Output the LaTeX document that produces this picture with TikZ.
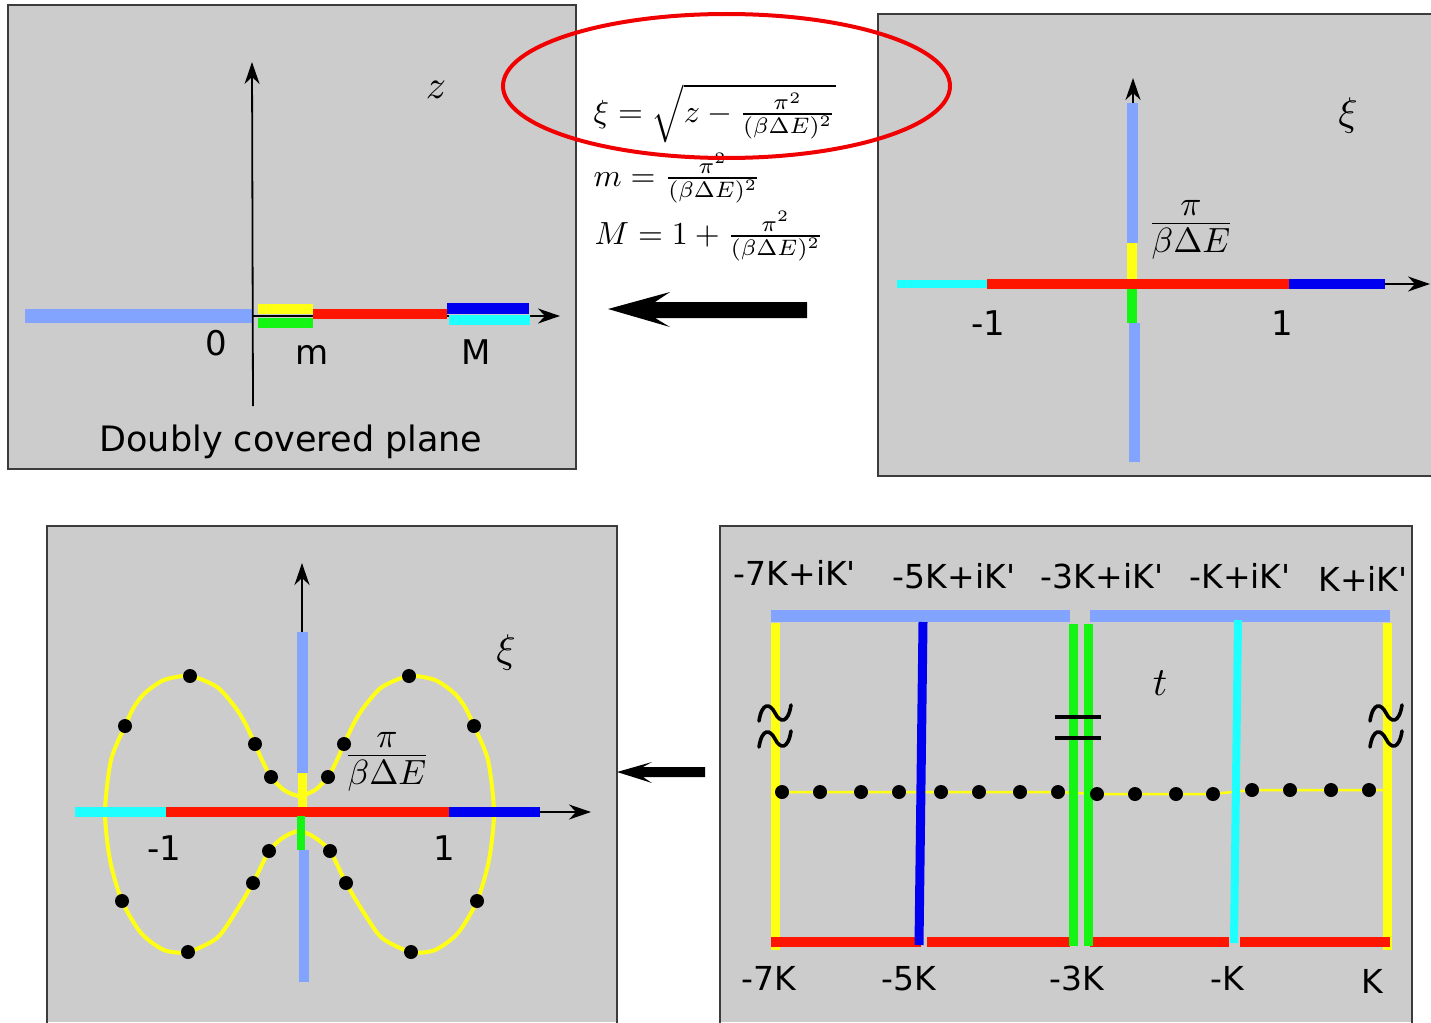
\documentclass[tikz,border=0pt]{standalone}
\usepackage[no-math]{fontspec}
\newfontfamily\lab[Ligatures=TeXOff]{DejaVu Sans}
\usetikzlibrary{arrows.meta}
\definecolor{panelgray}{RGB}{204,204,204}
\definecolor{framegray}{RGB}{60,60,60}
\definecolor{lblue}{RGB}{130,164,255}
\definecolor{cyellow}{RGB}{255,255,20}
\definecolor{cgreen}{RGB}{20,245,20}
\definecolor{cred}{RGB}{255,22,0}
\definecolor{cblue}{RGB}{0,0,240}
\definecolor{ccyan}{RGB}{30,255,255}
\definecolor{ered}{RGB}{240,0,0}
\newcommand{\pifrac}{$\frac{\textstyle\pi\vrule depth 1.6pt width 0pt}{\textstyle\vrule height 7.6pt width 0pt\beta\Delta E}$}
\begin{document}
\begin{tikzpicture}[x=1pt,y=-1pt,
  panelfill/.style={fill=panelgray},
  panelframe/.style={draw=framegray,line width=2pt},
  axarrow/.style={line width=1.8pt,-{Stealth[length=22pt,width=15pt,inset=7pt]}},
  lbl/.style={font=\lab\fontsize{34}{40}\selectfont,inner sep=0pt,anchor=base},
  mlbl/.style={font=\fontsize{10}{12}\selectfont,inner sep=0pt,scale=4,transform shape},
  flbl/.style={font=\fontsize{10}{12}\selectfont,inner sep=0pt,scale=3.5,transform shape},
  frm/.style={font=\fontsize{10}{12}\selectfont,inner sep=0pt,anchor=base west,scale=3.2,transform shape},
  blackdot/.style={circle,fill=black,inner sep=0pt,minimum size=14pt},
  tilde/.pic={\draw[line width=3.6pt,line cap=round] (-16,8) .. controls (-13,-11) and (-5,-10) .. (0,0) .. controls (5,10) and (13,11) .. (16,-8);},
]
\useasboundingbox (0,0) rectangle (1431,1022);
\fill[white] (0,0) rectangle (1431,1022);

% ---------------- top-left panel ----------------
\fill[panelfill] (8,5) rectangle (576,469);
\draw[panelframe] (8,5) rectangle (576,469);
\draw[axarrow] (252,316) -- (560,316);
\draw[lblue,line width=14pt] (25,316) -- (252,316);
\draw[cyellow,line width=10pt] (258,309) -- (313,309);
\draw[cgreen,line width=10pt] (258,323) -- (313,323);
\draw[cred,line width=10pt] (313,314) -- (447,314);
\draw[cblue,line width=11pt] (447,308.5) -- (529,308.5);
\draw[ccyan,line width=10pt] (449,320) -- (530,320);
\draw[axarrow] (253,406) -- (252,62);
\node[lbl] (zero) at (216,355) {0};
\node[lbl] (mlab) at (312,364) {m};
\node[lbl] (Mlab) at (476,364) {M};
\node[mlbl] (zlab) at (436,90) {$z$};
\node[lbl,font=\lab\fontsize{35}{40}\selectfont] (dcp) at (291,451) {Doubly covered plane};

% ---------------- formulas ----------------
\node[frm] (f1) at (593,122) {$\xi=\sqrt{z-\frac{\pi^2}{(\beta\Delta E)^2}}$};
\node[frm] (f2) at (593,186) {$m=\frac{\pi^2}{(\beta\Delta E)^2}$};
\node[frm] (f3) at (594,244) {$M=1+\frac{\pi^2}{(\beta\Delta E)^2}$};
\fill (608,309) -- (670,292) -- (655,302) -- (807,302) -- (807,318) -- (655,318) -- (670,327) -- cycle;

% ---------------- top-right panel ----------------
\fill[panelfill] (878,14) rectangle (1431,476);
\draw[panelframe] (1431,14) -- (878,14) -- (878,476) -- (1431,476);
\draw[axarrow] (1133,460) -- (1133,78);
\draw[axarrow] (897,284) -- (1430,284);
\draw[lblue,line width=11pt] (1132,103) -- (1132,243);
\draw[cyellow,line width=10pt] (1132,243) -- (1132,279);
\draw[ccyan,line width=8pt] (897,284) -- (987,284);
\draw[cred,line width=10pt] (987,284) -- (1289,284);
\draw[cblue,line width=10pt] (1289,284) -- (1385,284);
\draw[cgreen,line width=10pt] (1132,289) -- (1132,323);
\draw[lblue,line width=11pt] (1134,323) -- (1134,462);
\node[lbl] (tm1) at (988,335) {-1};
\node[lbl] (tp1) at (1282,335) {1};
\node[mlbl] (xi1) at (1348,115) {$\xi$};
\node[flbl] (fr1) at (1191,230) {\pifrac};

% ---------------- bottom-left panel ----------------
\fill[panelfill] (47,526) rectangle (617,1022);
\draw[panelframe] (47,1030) -- (47,526) -- (617,526) -- (617,1030);
\draw[axarrow] (302,800) -- (302,563);
\draw[axarrow] (75,812) -- (591,812);
\draw[cyellow,line width=4pt] plot[smooth cycle,tension=0.45] coordinates {
  (299,796) (284,790) (271,777) (262,760) (255,744) (245,723) (235,707) (217,687)
  (190,676) (164,680) (145,693) (134,707) (125,726) (111,760) (105,812) (110,860) (122,901)
  (141,933) (164,950) (188,952) (217,938) (235,913) (253,883) (269,851) (284,837)
  (299,831)
  (314,837) (330,851) (346,883) (364,913) (382,938) (411,952) (435,950) (458,933)
  (477,901) (489,860) (494,812) (488,760) (474,726) (465,707) (454,693) (435,680)
  (409,676) (382,687) (364,707) (354,723) (344,744) (337,760) (328,777) (315,790)};
\draw[lblue,line width=11pt] (302,632) -- (302,773);
\draw[cyellow,line width=9pt] (302,773) -- (302,807);
\draw[ccyan,line width=10pt] (75,812) -- (166,812);
\draw[cred,line width=10pt] (166,812) -- (449,812);
\draw[cblue,line width=10pt] (449,812) -- (540,812);
\draw[cgreen,line width=8pt] (301,816) -- (301,850);
\draw[lblue,line width=10pt] (304,850) -- (304,982);
\foreach \p [count=\i] in {(190,676),(125,726),(255,744),(271,777),(409,676),(474,726),(344,744),(328,777),
  (269,851),(253,883),(122,901),(188,952),(330,851),(346,883),(477,901),(411,952)}
  \node[blackdot] (bl\i) at \p {};
\node[lbl] (bm1) at (164,860) {-1};
\node[lbl] (bp1) at (444,860) {1};
\node[mlbl] (xi2) at (506,652) {$\xi$};
\node[flbl] (fr2) at (387,762) {\pifrac};

\fill (617,772) -- (652,762) -- (643,767) -- (705,767) -- (705,777) -- (643,777) -- (652,783) -- cycle;

% ---------------- bottom-right panel ----------------
\fill[panelfill] (720,526) rectangle (1412,1022);
\draw[panelframe] (720,1030) -- (720,526) -- (1412,526) -- (1412,1030);
\draw[lblue,line width=12pt] (771,616) -- (1070,616);
\draw[lblue,line width=12pt] (1090,616) -- (1390,616);
\draw[cyellow,line width=2.5pt] (775,792) -- (1058,792) -- (1097,794) -- (1213,794) -- (1252,790) -- (1387,790);
\draw[cyellow,line width=9pt] (775,623) -- (775,950);
\draw[cyellow,line width=9pt] (1387,623) -- (1387,950);
\draw[cred,line width=10pt] (771,942) -- (921,942);
\draw[cred,line width=10pt] (927,942) -- (1070,942);
\draw[cred,line width=10pt] (1090,942) -- (1229,942);
\draw[cred,line width=10pt] (1240,942) -- (1390,942);
\draw[cgreen,line width=9pt] (1073,624) -- (1073,946);
\draw[cgreen,line width=9pt] (1088,624) -- (1088,946);
\draw[cblue,line width=9pt] (923,622) -- (919,945);
\draw[ccyan,line width=8pt] (1238,620) -- (1234,943);
\foreach \x/\y [count=\i] in {782/792,820/792,861/792,899/792,941/792,979/792,1020/792,1058/792,
  1097/794,1135/794,1176/794,1213/794,1252/790,1290/790,1331/790,1369/790}
  \node[blackdot] (br\i) at (\x,\y) {};
\draw[line width=3.5pt] (1055,717) -- (1101,717);
\draw[line width=3.5pt] (1055,738) -- (1101,738);
\pic at (775,713) {tilde};
\pic at (775,739) {tilde};
\pic at (1386,713) {tilde};
\pic at (1386,739) {tilde};
\node[mlbl] (tlab) at (1160,683) {$t$};
\node[lbl,font=\lab\fontsize{33}{40}\selectfont] (u1) at (795,585) {-7K+iK'};
\node[lbl,font=\lab\fontsize{33}{40}\selectfont] (u2) at (954,588) {-5K+iK'};
\node[lbl,font=\lab\fontsize{33}{40}\selectfont] (u3) at (1102,588) {-3K+iK'};
\node[lbl,font=\lab\fontsize{33}{40}\selectfont] (u4) at (1240,588) {-K+iK'};
\node[lbl,font=\lab\fontsize{33}{40}\selectfont] (u5) at (1363,591) {K+iK'};
\node[lbl,font=\lab\fontsize{33}{40}\selectfont] (d1) at (769,990) {-7K};
\node[lbl,font=\lab\fontsize{33}{40}\selectfont] (d2) at (909,990) {-5K};
\node[lbl,font=\lab\fontsize{33}{40}\selectfont] (d3) at (1077,990) {-3K};
\node[lbl,font=\lab\fontsize{33}{40}\selectfont] (d4) at (1227,990) {-K};
\node[lbl,font=\lab\fontsize{33}{40}\selectfont] (d5) at (1372,993) {K};

% ---------------- red ellipse ----------------
\draw[ered,line width=4pt] (726.5,86) ellipse [x radius=223.5,y radius=72];
\end{tikzpicture}
\end{document}
